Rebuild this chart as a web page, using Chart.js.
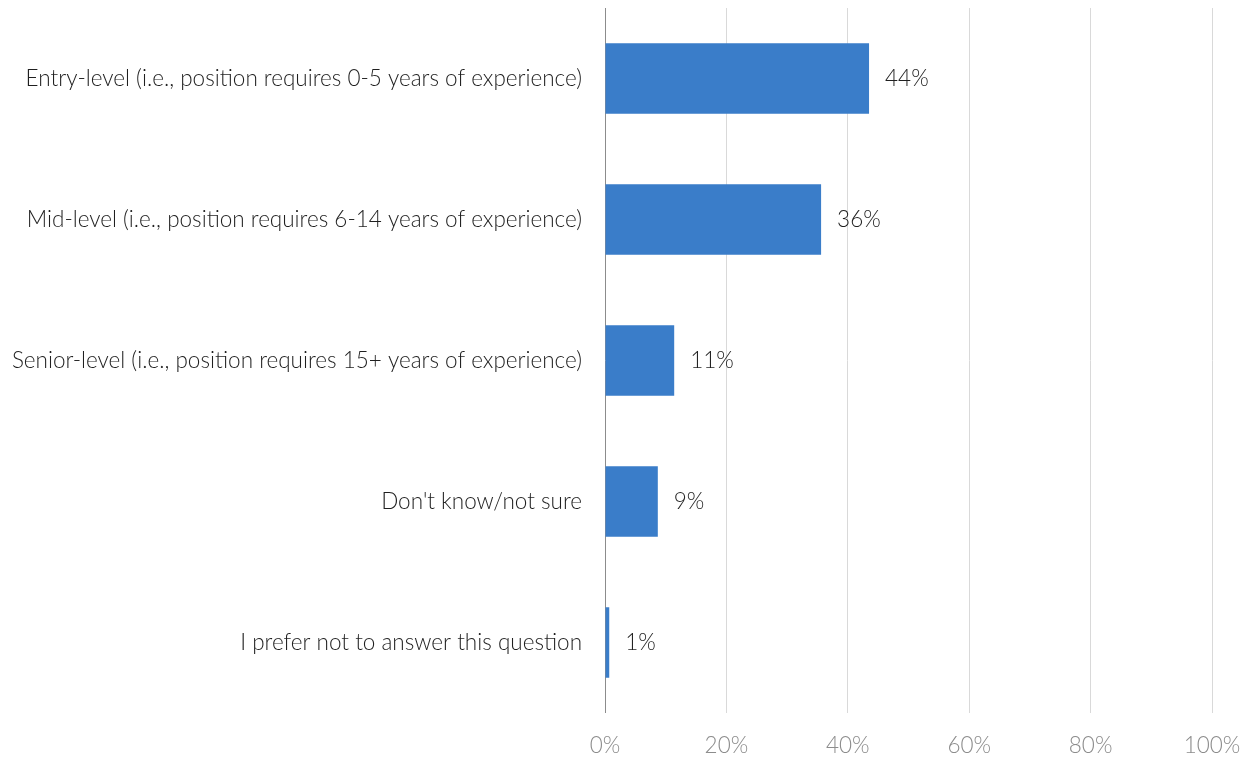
<!DOCTYPE html>
<html>
<head>
<meta charset="utf-8">
<script src="https://cdn.jsdelivr.net/npm/chart.js@4/dist/chart.umd.min.js"></script>
<style>
  html, body { margin: 0; padding: 0; background: #ffffff; }
  #wrap { width: 1250px; height: 757px; position: relative; }
</style>
</head>
<body>
<div id="wrap"><canvas id="c" width="1250" height="757"></canvas></div>
<script>
const categories = [
  "Entry-level (i.e., position requires 0-5 years of experience)",
  "Mid-level (i.e., position requires 6-14 years of experience)",
  "Senior-level (i.e., position requires 15+ years of experience)",
  "Don't know/not sure",
  "I prefer not to answer this question"
];
const shares = [43.5, 35.6, 11.4, 8.7, 0.7];
const shareLabels = ["44%", "36%", "11%", "9%", "1%"];
const xTicks = [0, 20, 40, 60, 80, 100];

const FONT = "Lato, 'Open Sans', sans-serif";
const FSIZE = 22.5;

const valueLabels = {
  id: 'valueLabels',
  afterDatasetsDraw(chart) {
    const ctx = chart.ctx;
    const meta = chart.getDatasetMeta(0);
    ctx.save();
    ctx.font = "300 " + FSIZE + "px " + FONT;
    ctx.fillStyle = "#1f1f1f";
    ctx.textAlign = "left";
    ctx.textBaseline = "middle";
    meta.data.forEach((bar, i) => {
      ctx.fillText(shareLabels[i], bar.x + 16, bar.y);
    });
    ctx.restore();
  }
};

new Chart(document.getElementById('c'), {
  type: 'bar',
  data: {
    labels: categories,
    datasets: [{
      data: shares,
      backgroundColor: '#3A7DC9',
      borderWidth: 0,
      barPercentage: 0.5,
      categoryPercentage: 1.0
    }]
  },
  options: {
    indexAxis: 'y',
    responsive: false,
    animation: false,
    devicePixelRatio: 1,
    layout: { padding: { top: 8, right: 38, left: 0, bottom: 0 } },
    plugins: { legend: { display: false }, tooltip: { enabled: false } },
    scales: {
      x: {
        min: 0, max: 100,
        afterBuildTicks(scale) { scale.ticks = xTicks.map(v => ({ value: v })); },
        afterFit(scale) {
          scale.paddingLeft = 0; scale.paddingRight = 0;
          scale.paddingTop = 0; scale.paddingBottom = 0;
          scale.height = 44;
        },
        grid: {
          drawTicks: false,
          color: (c) => (c.tick && c.tick.value === 0) ? '#8c8c8c' : '#d9d9d9',
          lineWidth: 1
        },
        border: { display: false },
        ticks: {
          padding: 19,
          color: '#8c8c8c',
          font: { family: FONT, size: FSIZE, weight: '300' },
          callback: (v) => v + '%'
        }
      },
      y: {
        afterFit(scale) { scale.width = 605; scale.paddingTop = 0; scale.paddingBottom = 0; },
        grid: { display: false, drawTicks: false },
        border: { display: false },
        ticks: {
          padding: 23,
          color: '#1f1f1f',
          font: { family: FONT, size: FSIZE, weight: '300' }
        }
      }
    }
  },
  plugins: [valueLabels]
});
</script>
</body>
</html>
